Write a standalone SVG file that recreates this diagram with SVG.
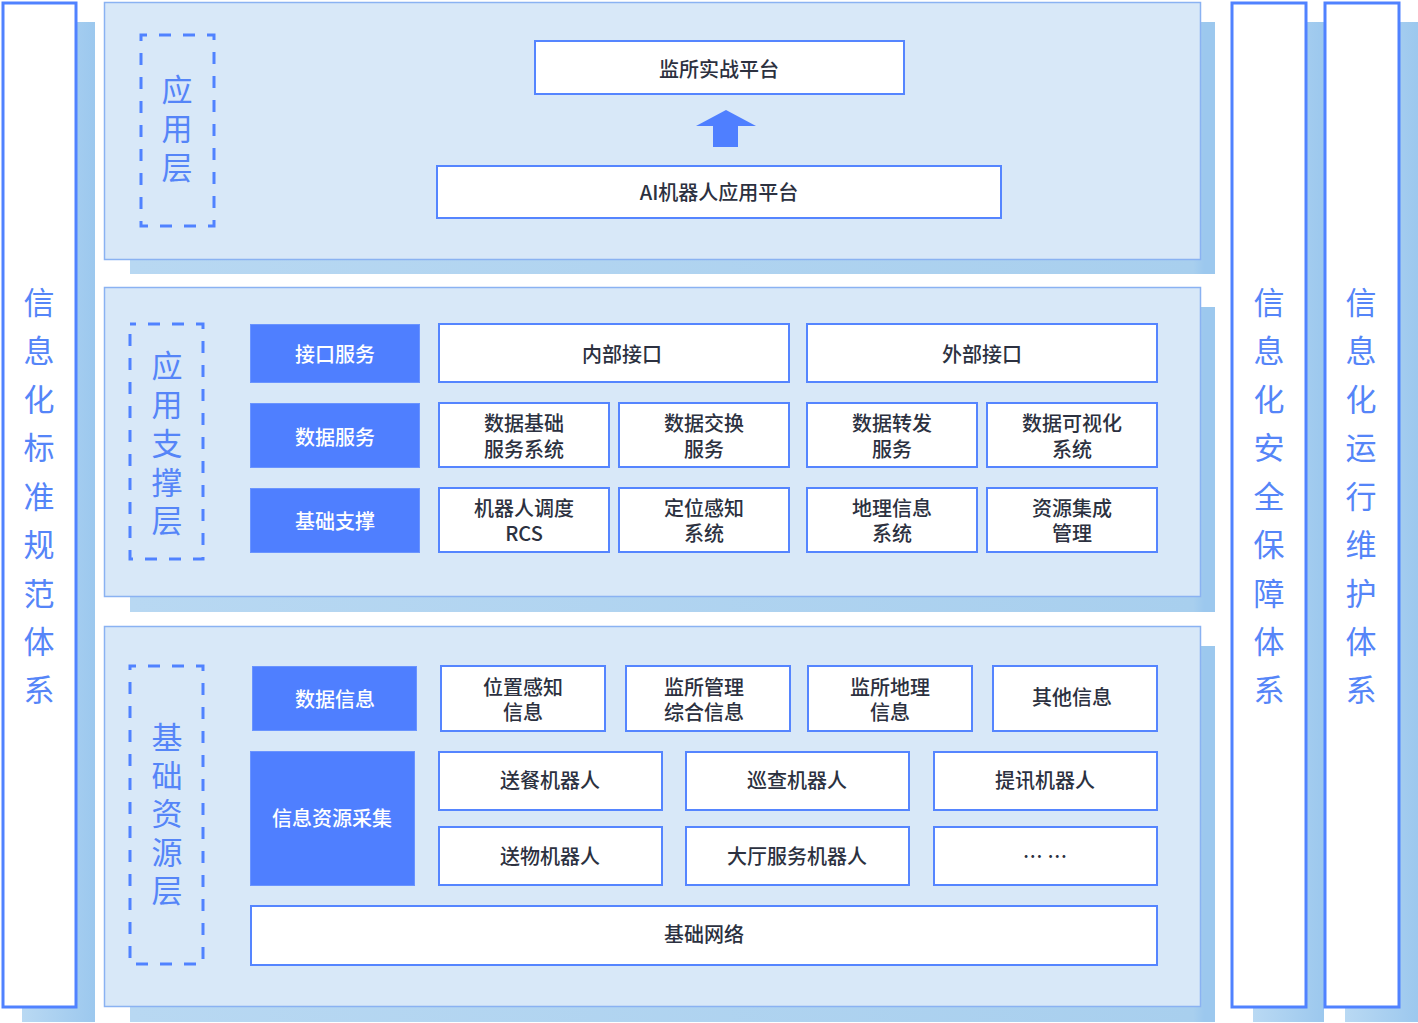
<svg xmlns="http://www.w3.org/2000/svg" width="1418" height="1023" viewBox="0 0 1418 1023">
<defs>
<linearGradient id="shg" x1="0" y1="0" x2="1" y2="0">
<stop offset="0" stop-color="#b9d9f3"/>
<stop offset="1" stop-color="#9cc8ee"/>
</linearGradient>
<linearGradient id="shp" x1="0" y1="0" x2="1" y2="0">
<stop offset="0" stop-color="#b8d8f2"/>
<stop offset="0.98" stop-color="#a8cfee"/>
<stop offset="0.99" stop-color="#9cc8ee"/>
<stop offset="1" stop-color="#9cc8ee"/>
</linearGradient>
</defs>
<style>
.side{fill:#ffffff;stroke:#5082ff;stroke-width:3}
.panel{fill:#d8e8f8;stroke:#8ab2f2;stroke-width:1.5}
.dash{fill:none;stroke:#5082ff;stroke-width:3;stroke-dasharray:12 12;stroke-dashoffset:6}
.vt{font-family:"Noto Sans CJK SC","Noto Sans",sans-serif;font-size:31px;fill:#5585f8;text-anchor:middle;dominant-baseline:central}
.wb{fill:#ffffff;stroke:#5585ff;stroke-width:2}
.bb{fill:#4f7fff;stroke:#6a94ff;stroke-width:1}
.t{font-family:"Noto Sans CJK SC","Noto Sans",sans-serif;font-size:20px;font-weight:500;fill:#2c3140;text-anchor:middle;dominant-baseline:central}
.tw{font-family:"Noto Sans CJK SC","Noto Sans",sans-serif;font-size:20px;font-weight:500;fill:#ffffff;text-anchor:middle;dominant-baseline:central}
</style>

<!-- shadows -->
<g id="shadows">
<rect x="22" y="22" width="73" height="1000" fill="url(#shg)"/>
<rect x="1253" y="22" width="71" height="1000" fill="url(#shg)"/>
<rect x="1345" y="22" width="73" height="1000" fill="url(#shg)"/>
<rect x="130" y="22" width="1085" height="252" fill="url(#shp)"/>
<rect x="130" y="307" width="1085" height="305" fill="url(#shp)"/>
<rect x="130" y="646" width="1085" height="376" fill="url(#shp)"/>
</g>

<!-- left side bar -->
<g id="side-standard">
<rect class="side" x="3" y="3" width="73" height="1004"/>
<text class="vt"><tspan x="39" y="300">信</tspan><tspan x="39" y="348">息</tspan><tspan x="39" y="397">化</tspan><tspan x="39" y="445">标</tspan><tspan x="39" y="494">准</tspan><tspan x="39" y="542">规</tspan><tspan x="39" y="591">范</tspan><tspan x="39" y="639">体</tspan><tspan x="39" y="687">系</tspan></text>
</g>

<g id="side-security">
<rect class="side" x="1232" y="3" width="74" height="1004"/>
<text class="vt"><tspan x="1269" y="300">信</tspan><tspan x="1269" y="348">息</tspan><tspan x="1269" y="397">化</tspan><tspan x="1269" y="445">安</tspan><tspan x="1269" y="494">全</tspan><tspan x="1269" y="542">保</tspan><tspan x="1269" y="591">障</tspan><tspan x="1269" y="639">体</tspan><tspan x="1269" y="687">系</tspan></text>
</g>

<g id="side-ops">
<rect class="side" x="1325" y="3" width="74" height="1004"/>
<text class="vt"><tspan x="1361" y="300">信</tspan><tspan x="1361" y="348">息</tspan><tspan x="1361" y="397">化</tspan><tspan x="1361" y="445">运</tspan><tspan x="1361" y="494">行</tspan><tspan x="1361" y="542">维</tspan><tspan x="1361" y="591">护</tspan><tspan x="1361" y="639">体</tspan><tspan x="1361" y="687">系</tspan></text>
</g>

<!-- application layer -->
<g id="layer-app">
<rect class="panel" x="104.5" y="2.5" width="1096" height="257"/>
<rect class="dash" x="141" y="35" width="73" height="191"/>
<text class="vt"><tspan x="177" y="87">应</tspan><tspan x="177" y="126">用</tspan><tspan x="177" y="165">层</tspan></text>
</g>
<g id="node-jiansuo">
<rect class="wb" x="535" y="41" width="369" height="53"/>
<text class="t" x="719" y="68">监所实战平台</text>
</g>
<g id="node-ai">
<rect class="wb" x="437" y="166" width="564" height="52"/>
<text class="t" x="719" y="191">AI机器人应用平台</text>
</g>
<g id="connectors">
<polygon points="726,110 756,126 738,126 738,147 713,147 713,126 696,126" fill="#4f7fff"/>
</g>

<!-- application support layer -->
<g id="layer-support">
<rect class="panel" x="104.5" y="287.5" width="1096" height="309"/>
<rect class="dash" x="130" y="324" width="73" height="235"/>
<text class="vt"><tspan x="167" y="363">应</tspan><tspan x="167" y="402">用</tspan><tspan x="167" y="441">支</tspan><tspan x="167" y="480">撑</tspan><tspan x="167" y="518">层</tspan></text>
</g>
<g id="node-jiekou"><rect class="bb" x="250.5" y="324.5" width="169" height="58"/><text class="tw" x="335" y="353">接口服务</text></g>
<g id="node-shujufuwu"><rect class="bb" x="250.5" y="403.5" width="169" height="64"/><text class="tw" x="335" y="436">数据服务</text></g>
<g id="node-jichuzhicheng"><rect class="bb" x="250.5" y="488.5" width="169" height="64"/><text class="tw" x="335" y="520">基础支撑</text></g>

<g id="node-neibu"><rect class="wb" x="439" y="324" width="350" height="58"/><text class="t" x="622" y="353">内部接口</text></g>
<g id="node-waibu"><rect class="wb" x="807" y="324" width="350" height="58"/><text class="t" x="982" y="353">外部接口</text></g>

<g id="node-sjjc"><rect class="wb" x="439" y="403" width="170" height="64"/><text class="t" x="524" y="422">数据基础</text><text class="t" x="524" y="448">服务系统</text></g>
<g id="node-sjjh"><rect class="wb" x="619" y="403" width="170" height="64"/><text class="t" x="704" y="422">数据交换</text><text class="t" x="704" y="448">服务</text></g>
<g id="node-sjzf"><rect class="wb" x="807" y="403" width="170" height="64"/><text class="t" x="892" y="422">数据转发</text><text class="t" x="892" y="448">服务</text></g>
<g id="node-sjksh"><rect class="wb" x="987" y="403" width="170" height="64"/><text class="t" x="1072" y="422">数据可视化</text><text class="t" x="1072" y="448">系统</text></g>

<g id="node-rcs"><rect class="wb" x="439" y="488" width="170" height="64"/><text class="t" x="524" y="507">机器人调度</text><text class="t" x="524" y="532">RCS</text></g>
<g id="node-dwgz"><rect class="wb" x="619" y="488" width="170" height="64"/><text class="t" x="704" y="507">定位感知</text><text class="t" x="704" y="532">系统</text></g>
<g id="node-dlxx"><rect class="wb" x="807" y="488" width="170" height="64"/><text class="t" x="892" y="507">地理信息</text><text class="t" x="892" y="532">系统</text></g>
<g id="node-zyjc"><rect class="wb" x="987" y="488" width="170" height="64"/><text class="t" x="1072" y="507">资源集成</text><text class="t" x="1072" y="532">管理</text></g>

<!-- foundation resource layer -->
<g id="layer-base">
<rect class="panel" x="104.5" y="626.5" width="1096" height="380"/>
<rect class="dash" x="130" y="666" width="73" height="298"/>
<text class="vt"><tspan x="167" y="735">基</tspan><tspan x="167" y="773">础</tspan><tspan x="167" y="811">资</tspan><tspan x="167" y="850">源</tspan><tspan x="167" y="888">层</tspan></text>
</g>
<g id="node-sjxx"><rect class="bb" x="252.5" y="666.5" width="164" height="64"/><text class="tw" x="335" y="698">数据信息</text></g>
<g id="node-xxzycj"><rect class="bb" x="250.5" y="751.5" width="164" height="134"/><text class="tw" x="332" y="817">信息资源采集</text></g>

<g id="node-wzgz"><rect class="wb" x="441" y="666" width="164" height="65"/><text class="t" x="523" y="686">位置感知</text><text class="t" x="523" y="711">信息</text></g>
<g id="node-jsgl"><rect class="wb" x="626" y="666" width="164" height="65"/><text class="t" x="704" y="686">监所管理</text><text class="t" x="704" y="711">综合信息</text></g>
<g id="node-jsdl"><rect class="wb" x="808" y="666" width="164" height="65"/><text class="t" x="890" y="686">监所地理</text><text class="t" x="890" y="711">信息</text></g>
<g id="node-qtxx"><rect class="wb" x="993" y="666" width="164" height="65"/><text class="t" x="1072" y="696">其他信息</text></g>

<g id="node-scjqr"><rect class="wb" x="439" y="752" width="223" height="58"/><text class="t" x="550" y="779">送餐机器人</text></g>
<g id="node-xcjqr"><rect class="wb" x="686" y="752" width="223" height="58"/><text class="t" x="797" y="779">巡查机器人</text></g>
<g id="node-txjqr"><rect class="wb" x="934" y="752" width="223" height="58"/><text class="t" x="1045" y="779">提讯机器人</text></g>

<g id="node-swjqr"><rect class="wb" x="439" y="827" width="223" height="58"/><text class="t" x="550" y="855">送物机器人</text></g>
<g id="node-dtfw"><rect class="wb" x="686" y="827" width="223" height="58"/><text class="t" x="797" y="855">大厅服务机器人</text></g>
<g id="node-more"><rect class="wb" x="934" y="827" width="223" height="58"/><text class="t" x="1045" y="855">… …</text></g>

<g id="node-jcwl"><rect class="wb" x="251" y="906" width="906" height="59"/><text class="t" x="704" y="933">基础网络</text></g>
</svg>
